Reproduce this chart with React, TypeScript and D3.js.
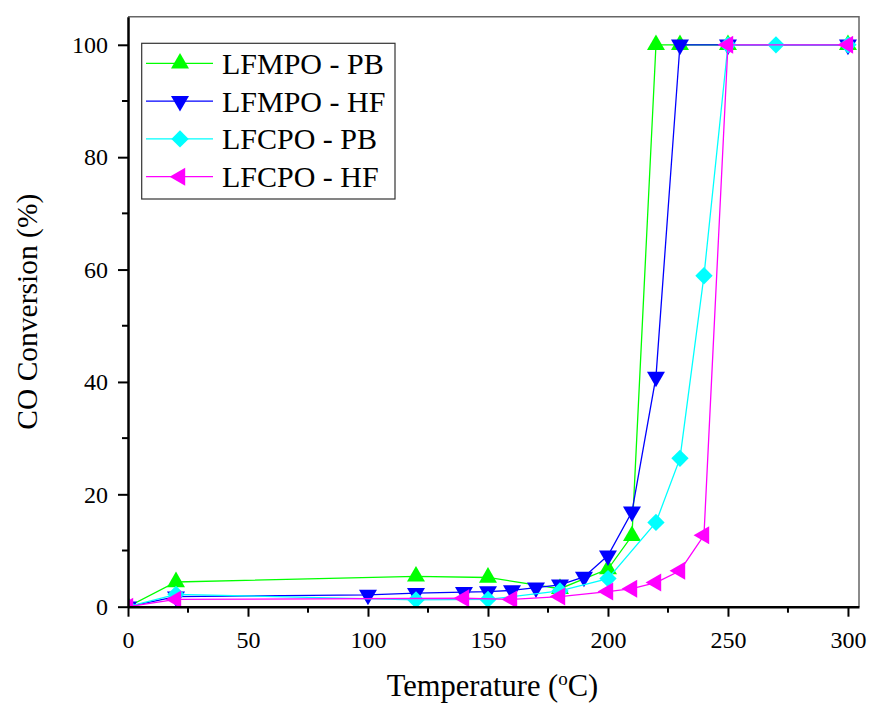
import React, { useEffect, useRef } from "react";
import * as d3 from "d3";

// Temperature (°C) and CO conversion (%) for each catalyst
const lfmpoPbT = [0, 20, 120, 150, 180, 200, 210, 220, 230, 250, 300];
const lfmpoPbV = [0, 4.4, 5.4, 5.2, 3.2, 6.7, 12.6, 100, 100, 100, 100];

const lfmpoHfT = [0, 20, 100, 120, 140, 150, 160, 170, 180, 190, 200, 210, 220, 230, 250, 300];
const lfmpoHfV = [0, 1.8, 2.1, 2.4, 2.6, 2.7, 2.9, 3.4, 3.9, 5.3, 9.1, 16.9, 40.9, 100, 100, 100];

const lfcpoPbT = [0, 20, 120, 150, 180, 200, 220, 230, 240, 250, 270, 300];
const lfcpoPbV = [0, 2.2, 1.2, 1.3, 2.8, 5.0, 15.0, 26.4, 58.9, 100, 100, 100];

const lfcpoHfT = [0, 20, 140, 160, 180, 200, 210, 220, 230, 240, 250, 300];
const lfcpoHfV = [0, 1.3, 1.5, 1.3, 1.8, 2.7, 3.2, 4.3, 6.4, 12.7, 100, 100];

const seriesNames = ["LFMPO - PB", "LFMPO - HF", "LFCPO - PB", "LFCPO - HF"];
const seriesColors = ["#00ff00", "#0000ff", "#00ffff", "#ff00ff"];
const seriesMarkers = ["up", "down", "diamond", "left"];

const xTicks = [0, 50, 100, 150, 200, 250, 300];
const yTicks = [0, 20, 40, 60, 80, 100];

const FONT = "Liberation Serif, Times New Roman, serif";

function markerPath(kind) {
  if (kind === "diamond") return d3.symbol().type(d3.symbolSquare).size(150)();
  return d3.symbol().type(d3.symbolTriangle).size(140)();
}
function markerRotate(kind) {
  if (kind === "down") return 180;
  if (kind === "left") return -90;
  if (kind === "diamond") return 45;
  return 0;
}

function App() {
  const ref = useRef(null);

  useEffect(() => {
    drawChart();
  }, []);

  function drawChart() {
    const svg = d3.select(ref.current);
    svg.selectAll("*").remove();

    const left = 128, right = 859, top = 16.7, bottom = 606.7;

    const xScale = d3.scaleLinear().domain([0, 304.6]).range([left, right]);
    const yScale = d3.scaleLinear().domain([0, 105]).range([bottom, top]);

    const series = [
      { t: lfmpoPbT, v: lfmpoPbV },
      { t: lfmpoHfT, v: lfmpoHfV },
      { t: lfcpoPbT, v: lfcpoPbV },
      { t: lfcpoHfT, v: lfcpoHfV },
    ].map((s, i) => ({
      name: seriesNames[i],
      color: seriesColors[i],
      marker: seriesMarkers[i],
      points: s.t.map((t, j) => ({ t, v: s.v[j] })),
    }));

    svg
      .append("defs")
      .append("clipPath")
      .attr("id", "plotClip")
      .append("rect")
      .attr("x", left)
      .attr("y", top)
      .attr("width", right - left)
      .attr("height", bottom - top);

    // frame (top & right)
    svg
      .append("path")
      .attr("d", `M${left},${top}H${right}V${bottom}`)
      .attr("fill", "none")
      .attr("stroke", "#666")
      .attr("stroke-width", 1.5);

    const line = d3
      .line()
      .x((d) => xScale(d.t))
      .y((d) => yScale(d.v));

    const plot = svg.append("g").attr("clip-path", "url(#plotClip)");

    series.forEach((s) => {
      plot
        .append("path")
        .datum(s.points)
        .attr("fill", "none")
        .attr("stroke", s.color)
        .attr("stroke-width", 1.3)
        .attr("d", line);
      plot
        .selectAll(null)
        .data(s.points)
        .enter()
        .append("path")
        .attr("d", markerPath(s.marker))
        .attr("fill", s.color)
        .attr(
          "transform",
          (d) => `translate(${xScale(d.t)},${yScale(d.v)}) rotate(${markerRotate(s.marker)})`
        );
    });

    // X axis
    const xAxis = svg
      .append("g")
      .attr("transform", `translate(0,${bottom})`)
      .call(d3.axisBottom(xScale).tickValues(xTicks).tickSize(10).tickSizeOuter(0).tickPadding(14));
    xAxis
      .append("g")
      .selectAll("line")
      .data(d3.range(25, 301, 50))
      .enter()
      .append("line")
      .attr("x1", (d) => xScale(d))
      .attr("x2", (d) => xScale(d))
      .attr("y1", 0)
      .attr("y2", 6)
      .attr("stroke", "#000")
      .attr("stroke-width", 2);

    // Y axis
    const yAxis = svg
      .append("g")
      .attr("transform", `translate(${left},0)`)
      .call(d3.axisLeft(yScale).tickValues(yTicks).tickSize(10).tickSizeOuter(0).tickPadding(10));
    yAxis
      .append("g")
      .selectAll("line")
      .data(d3.range(10, 101, 20))
      .enter()
      .append("line")
      .attr("x1", 0)
      .attr("x2", -6)
      .attr("y1", (d) => yScale(d))
      .attr("y2", (d) => yScale(d))
      .attr("stroke", "#000")
      .attr("stroke-width", 2);

    [xAxis, yAxis].forEach((a) => {
      a.attr("font-family", FONT).attr("font-size", 24);
      a.select(".domain").attr("stroke", "#000").attr("stroke-width", 2.5);
      a.selectAll(".tick line").attr("stroke", "#000").attr("stroke-width", 2);
      a.selectAll(".tick text")
        .attr("fill", "#000")
        .attr("font-family", FONT)
        .attr("font-size", 24);
    });

    // axis titles
    const xTitle = svg
      .append("text")
      .attr("x", (left + right) / 2 - 1)
      .attr("y", 696)
      .attr("text-anchor", "middle")
      .attr("font-family", FONT)
      .attr("font-size", 30.5);
    xTitle.append("tspan").text("Temperature (");
    xTitle.append("tspan").attr("dy", -11).attr("font-size", 19).text("o");
    xTitle.append("tspan").attr("dy", 11).text("C)");

    svg
      .append("text")
      .attr("transform", `translate(37,${(top + bottom) / 2}) rotate(-90)`)
      .attr("text-anchor", "middle")
      .attr("font-family", FONT)
      .attr("font-size", 29.5)
      .text("CO Conversion (%)");

    // legend
    const legend = svg.append("g");
    legend
      .append("rect")
      .attr("x", 141.7)
      .attr("y", 43.3)
      .attr("width", 253.3)
      .attr("height", 155.7)
      .attr("fill", "#fff")
      .attr("stroke", "#333")
      .attr("stroke-width", 1.2);

    series.forEach((s, i) => {
      const y = 63.3 + i * 37.8;
      legend
        .append("line")
        .attr("x1", 146)
        .attr("x2", 213)
        .attr("y1", y)
        .attr("y2", y)
        .attr("stroke", s.color)
        .attr("stroke-width", 1.3);
      legend
        .append("path")
        .attr("d", markerPath(s.marker))
        .attr("fill", s.color)
        .attr("transform", `translate(180,${y}) rotate(${markerRotate(s.marker)})`);
      legend
        .append("text")
        .attr("x", 222)
        .attr("y", y)
        .attr("dy", "0.35em")
        .attr("font-family", FONT)
        .attr("font-size", 30)
        .text(s.name);
    });
  }

  return (
    <svg
      ref={ref}
      width={872}
      height={707}
      fontFamily={FONT}
      style={{ position: "absolute", left: 0, top: 0, background: "#fff" }}
    />
  );
}

export default App;
